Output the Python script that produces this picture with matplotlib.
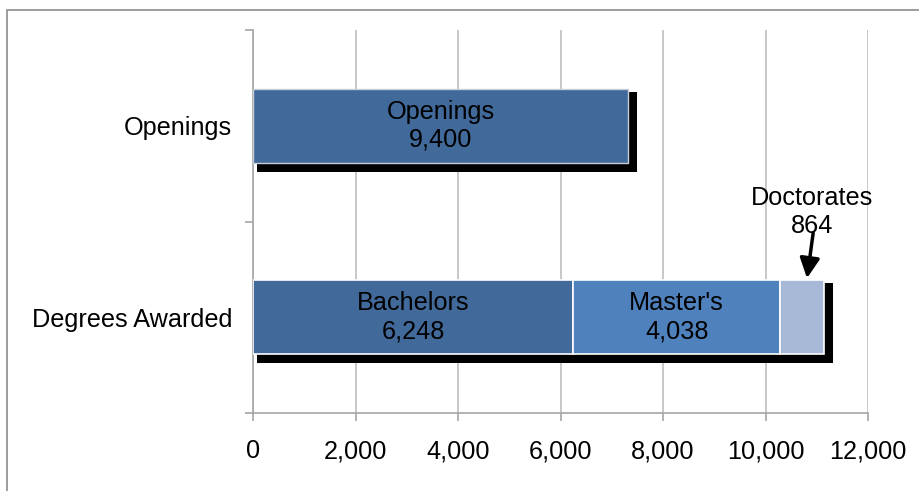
import matplotlib
matplotlib.use("Agg")
import matplotlib.pyplot as plt
from matplotlib.patches import Rectangle
from matplotlib.ticker import FuncFormatter

plt.rcParams['font.family'] = ['Liberation Sans', 'DejaVu Sans']

# dados
categorias = ['Degrees Awarded', 'Openings']
openings_valor = 7320          # comprimento da barra como aparece na imagem
openings_rotulo = 'Openings\n9,400'
graus_nomes = ['Bachelors', "Master's", 'Doctorates']
graus_valores = [6248, 4038, 864]
graus_rotulos = ['Bachelors\n6,248', "Master's\n4,038", None]
graus_cores = ['#41699A', '#4F81BD', '#A8B9D7']
doutorado_rotulo = 'Doctorates\n864'

FS = 18.2

fig = plt.figure(figsize=(9.19, 4.91), dpi=100)
ax = fig.add_axes([253/919, 1-413/491, 615/919, 383/491])

# moldura externa
fig.patches.append(Rectangle((7/919, -0.2), 2.0, 0.2 + 1 - 10/491, transform=fig.transFigure,
                             fill=False, edgecolor='#8C8C8C', linewidth=1.2, zorder=0))

alt = 0.387
sx0, sx1 = 78, 170        # deslocamento da sombra (unidades do eixo x)
sy_off, s_alt = -0.031, 0.418

# sombras
total_graus = sum(graus_valores)
ax.barh(0 + sy_off, total_graus + sx1 - sx0, left=sx0, height=s_alt, color='black', zorder=2)
ax.barh(1 + sy_off, openings_valor + sx1 - sx0, left=sx0, height=s_alt, color='black', zorder=2)

# barra Openings
ax.barh(1, openings_valor, height=alt, color='#41699A', edgecolor='#C8CED8', linewidth=1, zorder=3)
ax.text(openings_valor/2, 1, openings_rotulo, ha='center', va='center', fontsize=FS,
        linespacing=1.2, zorder=4)

# barras empilhadas dos graus
esq = 0
for nome, v, cor, rot in zip(graus_nomes, graus_valores, graus_cores, graus_rotulos):
    ax.barh(0, v, left=esq, height=alt, color=cor, edgecolor='white', linewidth=1.2, zorder=3)
    if rot:
        ax.text(esq + v/2, 0, rot, ha='center', va='center', fontsize=FS,
                linespacing=1.2, zorder=4)
    esq += v

# anotação Doctorates
ax.text(10905, 0.548, doutorado_rotulo, ha='center', va='center',
        fontsize=FS, linespacing=1.2, zorder=5)
ax.annotate('', xy=(10810, 0.204), xytext=(10930, 0.44),
            arrowprops=dict(arrowstyle='-|>,head_length=1.2,head_width=0.6', color='black', lw=2.5,
                            shrinkA=0, shrinkB=0),
            zorder=6)

ax.set_xlim(0, 12000)
ax.set_ylim(-0.5, 1.5)
ax.set_xticks(range(0, 12001, 2000))
ax.xaxis.set_major_formatter(FuncFormatter(lambda v, p: f'{int(v):,}'))
ax.set_yticks([0, 1])
ax.set_yticklabels(categorias)
ax.set_yticks([-0.5, 0.5, 1.5], minor=True)

ax.grid(axis='x', color='#BFBFBF', linewidth=1.2, zorder=0)
ax.set_axisbelow(True)
for s in ['top', 'right']:
    ax.spines[s].set_visible(False)
for s in ['left', 'bottom']:
    ax.spines[s].set_color('#A6A6A6')
    ax.spines[s].set_linewidth(1.2)

ax.tick_params(axis='x', length=6, color='#A6A6A6', width=1.2, labelsize=FS, pad=13)
ax.tick_params(axis='y', which='major', length=0, labelsize=FS, pad=15)
ax.tick_params(axis='y', which='minor', length=6, color='#A6A6A6', width=1.2)

fig.savefig('out.png', dpi=100)
plt.close()
